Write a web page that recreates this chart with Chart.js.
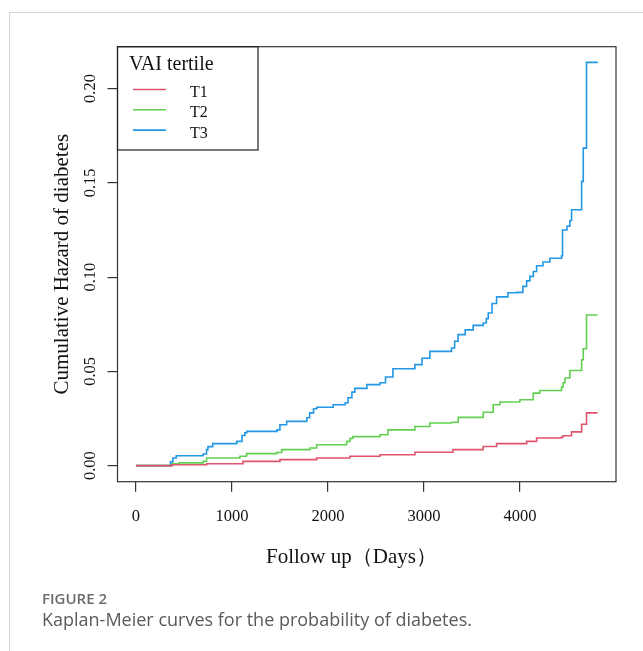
<!DOCTYPE html>
<html>
<head>
<meta charset="utf-8">
<script src="https://cdn.jsdelivr.net/npm/chart.js@4.4.1/dist/chart.umd.min.js"></script>
<style>
  html, body { margin: 0; padding: 0; background: #fff; }
  #wrap { width: 643px; height: 651px; }
</style>
</head>
<body>
<div id="wrap"><canvas id="km" width="643" height="651"></canvas></div>
<script>
// tick values
const xTicks = [0, 1000, 2000, 3000, 4000];
const yTicks = [0, 0.05, 0.10, 0.15, 0.20];
const yTickLabels = ['0.00', '0.05', '0.10', '0.15', '0.20'];

const seriesNames = ['T1', 'T2', 'T3'];
const seriesColors = ['#DF536B', '#61D04F', '#2297E6'];

// T1 (days, cumulative hazard)
const t1Days   = [0, 360, 380, 736, 1115, 1500, 1882, 2229, 2542, 2906, 3302, 3617, 3757, 4070, 4174, 4434, 4450, 4538, 4643, 4694, 4809];
const t1Hazard = [0, 0, 0.0005, 0.001, 0.0023, 0.0032, 0.0041, 0.005, 0.0058, 0.0071, 0.0085, 0.0102, 0.0117, 0.0129, 0.0147, 0.0152, 0.0159, 0.0179, 0.022, 0.028, 0.028];

// T2
const t2Days   = [0, 360, 375, 450, 700, 736, 1083, 1153, 1465, 1518, 1812, 1882, 2195, 2230, 2260, 2542, 2625, 2906, 3062, 3288, 3357, 3618, 3722, 3792, 4000, 4139, 4208, 4434, 4450, 4469, 4521, 4643, 4660, 4694, 4809];
const t2Hazard = [0, 0, 0.001, 0.0015, 0.0023, 0.0041, 0.005, 0.0064, 0.007, 0.0085, 0.0094, 0.0111, 0.0129, 0.0145, 0.0154, 0.0164, 0.019, 0.0208, 0.0226, 0.023, 0.0256, 0.0283, 0.0323, 0.0338, 0.035, 0.0385, 0.0399, 0.0417, 0.044, 0.0465, 0.0505, 0.0562, 0.062, 0.0799, 0.0799];

// T3
const t3Days   = [0, 360, 385, 420, 700, 735, 750, 800, 1050, 1105, 1135, 1155, 1470, 1500, 1570, 1780, 1810, 1850, 1885, 2055, 2180, 2210, 2250, 2280, 2406, 2542, 2600, 2677, 2906, 2980, 3062, 3288, 3320, 3356, 3430, 3513, 3617, 3650, 3670, 3710, 3757, 3875, 3965, 4031, 4070, 4104, 4140, 4174, 4240, 4312, 4434, 4444, 4490, 4521, 4538, 4643, 4660, 4694, 4812];
const t3Hazard = [0, 0.002, 0.0041, 0.0053, 0.0062, 0.0085, 0.0101, 0.0117, 0.0129, 0.016, 0.0175, 0.0182, 0.019, 0.0217, 0.0235, 0.0254, 0.028, 0.0302, 0.031, 0.0323, 0.0334, 0.036, 0.039, 0.041, 0.043, 0.044, 0.047, 0.0514, 0.0536, 0.057, 0.0606, 0.0624, 0.066, 0.0695, 0.072, 0.0744, 0.0757, 0.078, 0.081, 0.086, 0.0895, 0.0917, 0.0919, 0.0951, 0.098, 0.1004, 0.103, 0.106, 0.108, 0.110, 0.1113, 0.125, 0.127, 0.130, 0.1357, 0.1508, 0.1684, 0.2139, 0.2139];

const toPoints = (xs, ys) => xs.map((x, i) => ({ x: x, y: ys[i] }));
const allDays = [t1Days, t2Days, t3Days];
const allHazard = [t1Hazard, t2Hazard, t3Hazard];

const datasets = seriesNames.map((name, i) => ({
    label: name,
    data: toPoints(allDays[i], allHazard[i]),
    borderColor: seriesColors[i],
    borderWidth: 1.6,
    pointRadius: 0,
    stepped: true,
    fill: false
}));

const SERIF = '"Liberation Serif", "Times New Roman", serif';

// draws box, R-style labels, legend and the figure caption
const decorations = {
    id: 'decorations',
    afterDraw(chart) {
        const ctx = chart.ctx;
        const area = chart.chartArea;
        const xs = chart.scales.x;
        const ys = chart.scales.y;
        ctx.save();

        // page frame
        ctx.strokeStyle = '#d3d3d3';
        ctx.lineWidth = 1;
        ctx.beginPath();
        ctx.moveTo(9.5, 651); ctx.lineTo(9.5, 12.5); ctx.lineTo(643, 12.5);
        ctx.stroke();

        // plot box
        ctx.strokeStyle = '#333';
        ctx.lineWidth = 1.2;
        ctx.strokeRect(area.left, area.top, area.right - area.left, area.bottom - area.top);

        ctx.fillStyle = '#111';
        // x tick labels
        ctx.font = '16.5px ' + SERIF;
        ctx.textAlign = 'center';
        ctx.textBaseline = 'alphabetic';
        xTicks.forEach(v => ctx.fillText(String(v), xs.getPixelForValue(v), 521));

        // y tick labels, parallel to axis
        yTicks.forEach((v, i) => {
            ctx.save();
            ctx.translate(95, ys.getPixelForValue(v));
            ctx.rotate(-Math.PI / 2);
            ctx.fillText(yTickLabels[i], 0, 0);
            ctx.restore();
        });

        // axis titles
        ctx.font = '21px ' + SERIF;
        ctx.textAlign = 'left';
        ctx.fillText('Follow up（Days）', 266, 563);
        ctx.save();
        ctx.translate(68, (area.top + area.bottom) / 2);
        ctx.rotate(-Math.PI / 2);
        ctx.textAlign = 'center';
        ctx.fillText('Cumulative Hazard of diabetes', 0, 0);
        ctx.restore();

        // legend
        ctx.strokeStyle = '#222';
        ctx.lineWidth = 1.2;
        ctx.strokeRect(area.left, area.top, 140.5, 103.3);
        ctx.font = '20px ' + SERIF;
        ctx.textAlign = 'left';
        ctx.fillText('VAI tertile', 129, 70);
        ctx.font = '16px ' + SERIF;
        seriesNames.forEach((name, i) => {
            const y = 89.5 + i * 20.3;
            ctx.strokeStyle = seriesColors[i];
            ctx.lineWidth = 1.6;
            ctx.beginPath();
            ctx.moveTo(133, y); ctx.lineTo(166, y);
            ctx.stroke();
            ctx.fillText(name, 190, y + 7.5);
        });

        // caption
        ctx.fillStyle = '#6b6b6b';
        ctx.font = '600 15px "Open Sans", sans-serif';
        ctx.fillText('FIGURE 2', 42, 604);
        ctx.fillStyle = '#5a5a5a';
        ctx.font = '18px "Open Sans", sans-serif';
        ctx.fillText('Kaplan-Meier curves for the probability of diabetes.', 42, 626);

        ctx.restore();
    }
};

new Chart(document.getElementById('km'), {
    type: 'line',
    data: { datasets },
    options: {
        responsive: false,
        animation: false,
        devicePixelRatio: 1,
        layout: { padding: { left: 107.5, top: 46.7, right: 27, bottom: 159.3 } },
        plugins: { legend: { display: false }, tooltip: { enabled: false } },
        scales: {
            x: {
                type: 'linear', min: -192, max: 5001,
                afterBuildTicks: s => { s.ticks = xTicks.map(v => ({ value: v })); },
                ticks: { display: false },
                grid: { drawOnChartArea: false, drawTicks: true, tickLength: 10, color: '#333', lineWidth: 1.2 },
                border: { display: false }
            },
            y: {
                type: 'linear', min: -0.0085, max: 0.2222,
                afterBuildTicks: s => { s.ticks = yTicks.map(v => ({ value: v })); },
                ticks: { display: false },
                grid: { drawOnChartArea: false, drawTicks: true, tickLength: 10, color: '#333', lineWidth: 1.2 },
                border: { display: false }
            }
        }
    },
    plugins: [decorations]
});
</script>
</body>
</html>
